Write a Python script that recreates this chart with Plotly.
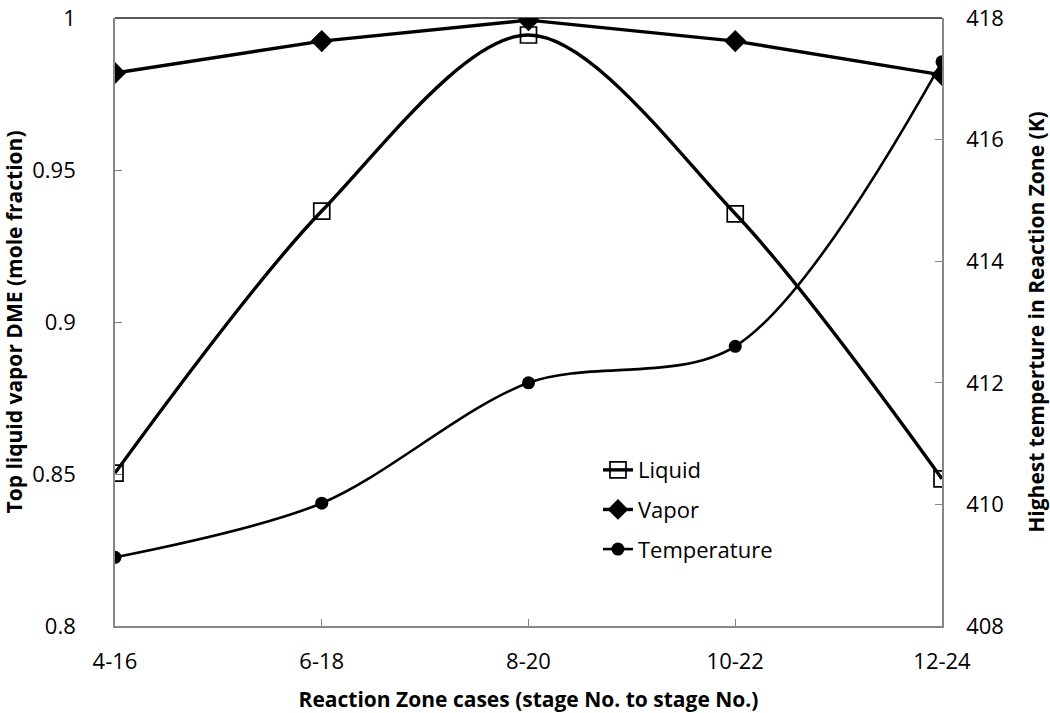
import plotly.graph_objects as go

categories = ["4-16", "6-18", "8-20", "10-22", "12-24"]
liquid = [0.8503, 0.9365, 0.9944, 0.9356, 0.8484]
vapor = [0.9819, 0.9924, 0.9993, 0.9924, 0.9813]
temperature = [409.13, 410.02, 412.0, 412.6, 417.28]

xpos = list(range(len(categories)))
FONT = "Open Sans"
GREY = "#868686"
TICKSIZE = 22
TITLESIZE = 21

fig = go.Figure()
fig.add_trace(go.Scatter(
    x=xpos, y=liquid, name="Liquid", mode="lines+markers", legendgroup="a",
    line=dict(color="black", width=3.4, shape="spline", smoothing=0.9),
    marker=dict(symbol="square-open", size=16, color="black", line=dict(width=1.7)),
))
fig.add_trace(go.Scatter(
    x=xpos, y=vapor, name="Vapor", mode="lines+markers", legendgroup="b",
    line=dict(color="black", width=3.4),
    marker=dict(symbol="diamond", size=17, color="black"),
))
fig.add_trace(go.Scatter(
    x=xpos, y=temperature, name="Temperature", mode="lines+markers", yaxis="y2",
    legendgroup="c",
    line=dict(color="black", width=2.6, shape="spline", smoothing=0.9),
    marker=dict(symbol="circle", size=13, color="black"),
))

axis_common = dict(
    showline=True, linecolor=GREY, linewidth=1.6,
    ticks="inside", ticklen=7, tickcolor=GREY, tickwidth=1.3,
    showgrid=False, zeroline=False, automargin=False,
    ticklabeloverflow="allow",
    tickfont=dict(size=TICKSIZE, family=FONT, color="black"),
)

fig.update_layout(
    width=1050, height=713,
    margin=dict(l=115, r=108, t=18, b=87),
    paper_bgcolor="white", plot_bgcolor="white",
    font=dict(family=FONT, color="black", size=TICKSIZE),
    showlegend=True,
    legend=dict(x=0.584, y=0.291, xanchor="left", yanchor="top",
                bgcolor="rgba(0,0,0,0)", font=dict(size=TICKSIZE, family=FONT),
                tracegroupgap=8),
    xaxis=dict(
        range=[0, 4], tickvals=xpos, ticktext=categories,
        title=dict(text="<b>Reaction Zone cases (stage No. to stage No.)</b>",
                   font=dict(size=TITLESIZE, family=FONT), standoff=18),
        ticklabelstandoff=15,
        **axis_common,
    ),
    yaxis=dict(
        range=[0.8, 1.0], tickvals=[0.8, 0.85, 0.9, 0.95, 1.0],
        ticktext=["0.8", "0.85", "0.9", "0.95", "1"],
        title=dict(text="<b>Top liquid vapor DME (mole fraction)</b>",
                   font=dict(size=TITLESIZE, family=FONT), standoff=8),
        ticklabelstandoff=33,
        **axis_common,
    ),
    yaxis2=dict(
        range=[408, 418], tickvals=[408, 410, 412, 414, 416, 418],
        overlaying="y", side="right",
        title=dict(text="<b>Highest temperture in Reaction Zone (K)</b>",
                   font=dict(size=TITLESIZE, family=FONT), standoff=27),
        ticklabelstandoff=18,
        **axis_common,
    ),
    shapes=[dict(type="line", xref="paper", yref="paper", x0=0, x1=1, y0=1, y1=1,
                 line=dict(color="#222222", width=1.5), layer="below")],
)

fig.write_html("out.html",
               config={"displayModeBar": False},
               post_script="document.body.style.margin='0';document.body.style.overflow='hidden';")
